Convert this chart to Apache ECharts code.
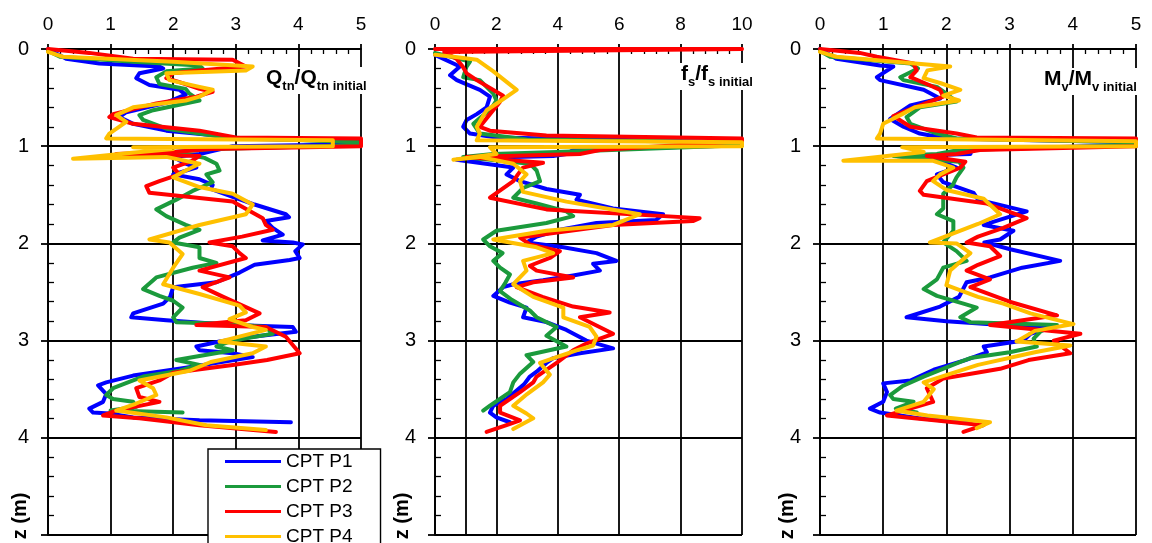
<!DOCTYPE html>
<html>
<head>
<meta charset="utf-8">
<script src="https://cdn.jsdelivr.net/npm/echarts@6/dist/echarts.min.js"></script>
<style>
  html, body { margin: 0; padding: 0; background: #fff; }
  #chart { width: 1152px; height: 543px; }
</style>
</head>
<body>
<div id="chart"></div>
<script>
// CPT soundings: normalised parameter profiles against depth z (m).
// Each point is [normalised value, depth].
const seriesNames = ['CPT P1', 'CPT P2', 'CPT P3', 'CPT P4'];
const seriesColors = ['#0000ff', '#1b9a3c', '#ff0000', '#ffc000'];

// Tick labels
const depthLabels = [0, 1, 2, 3, 4];
const qtnLabels = [0, 1, 2, 3, 4, 5];
const fsLabels = [0, 2, 4, 6, 8, 10];
const mvLabels = [0, 1, 2, 3, 4, 5];

// Qtn / Qtn initial
const qtnP1 = [[0,0],[0.29,0.1],[0.82,0.15],[1.78,0.18],[1.84,0.2],[1.46,0.25],[1.41,0.3],[1.62,0.37],[2.1,0.42],[2.2,0.47],[1.9,0.55],[1.25,0.65],[1.14,0.7],[1.36,0.77],[1.89,0.84],[2.69,0.89],[2.95,0.92],[5,0.95],[5,0.98],[2.95,1.0],[2.42,1.08],[2.0,1.11],[2.2,1.18],[2.37,1.22],[2.0,1.29],[2.42,1.34],[2.63,1.4],[2.6,1.44],[2.95,1.52],[3.3,1.6],[3.8,1.7],[3.85,1.73],[3.48,1.77],[3.59,1.84],[3.75,1.91],[3.43,1.97],[3.91,1.99],[4.07,2.01],[3.95,2.08],[4.02,2.15],[3.86,2.17],[3.3,2.22],[3.06,2.3],[2.69,2.4],[2.0,2.45],[1.95,2.55],[1.84,2.62],[1.36,2.72],[1.33,2.76],[1.89,2.79],[2.95,2.84],[3.91,2.86],[3.96,2.91],[3.27,2.96],[2.74,3.01],[2.37,3.06],[2.42,3.1],[2.95,3.13],[3.27,3.17],[2.2,3.28],[1.36,3.36],[0.93,3.43],[0.8,3.46],[0.93,3.55],[0.88,3.63],[0.66,3.7],[0.72,3.74],[0.98,3.75],[1.36,3.79],[2.42,3.82],[3.88,3.84]];
const qtnP2 = [[0,0.02],[0.19,0.08],[1.36,0.13],[2.42,0.17],[2.47,0.2],[1.89,0.23],[1.73,0.29],[1.78,0.36],[2.2,0.41],[2.26,0.46],[2.42,0.53],[1.68,0.63],[1.46,0.68],[1.52,0.73],[1.89,0.82],[2.85,0.91],[5,0.96],[5,0.99],[2.63,1.03],[2.0,1.06],[2.5,1.12],[2.69,1.18],[2.74,1.25],[2.53,1.29],[2.63,1.37],[2.42,1.43],[2.31,1.46],[2.05,1.55],[1.73,1.65],[1.89,1.72],[2.2,1.81],[2.42,1.86],[2.1,1.94],[2.0,1.99],[2.42,2.04],[2.42,2.15],[2.69,2.2],[2.31,2.25],[1.73,2.35],[1.52,2.47],[1.78,2.54],[2.0,2.59],[2.15,2.66],[2.0,2.76],[2.05,2.81],[2.95,2.83],[3.48,2.86],[3.59,2.93],[2.95,3.0],[2.69,3.06],[2.95,3.1],[2.05,3.2],[2.42,3.25],[2.1,3.31],[1.52,3.37],[1.36,3.41],[1.04,3.49],[0.93,3.56],[1.04,3.6],[1.36,3.63],[1.41,3.68],[1.0,3.72],[2.15,3.74]];
const qtnP3 = [[0,0],[0.66,0.04],[1.36,0.1],[2.95,0.11],[3.16,0.18],[2.42,0.22],[2.0,0.25],[1.89,0.3],[2.1,0.34],[2.42,0.41],[2.63,0.44],[2.37,0.49],[1.73,0.56],[1.04,0.67],[0.98,0.7],[1.36,0.77],[2.42,0.84],[3.0,0.91],[5,0.92],[5,1.0],[2.6,1.03],[2.0,1.06],[1.09,1.08],[2.42,1.1],[2.3,1.15],[2.0,1.22],[2.1,1.29],[1.78,1.36],[1.57,1.41],[1.62,1.48],[2.95,1.57],[3.43,1.74],[3.48,1.81],[3.59,1.86],[3.1,1.93],[2.58,1.99],[2.95,2.03],[3.06,2.1],[3.16,2.15],[2.42,2.28],[2.9,2.35],[2.47,2.45],[2.8,2.55],[3.38,2.72],[3.16,2.79],[2.37,2.84],[3.48,2.86],[3.8,2.96],[4.02,3.13],[3.5,3.2],[2.95,3.25],[2.0,3.33],[1.78,3.41],[1.41,3.49],[1.46,3.58],[1.78,3.63],[1.09,3.72],[0.88,3.77],[1.46,3.8],[2.42,3.87],[3.64,3.94]];
const qtnP4 = [[0,0.03],[0.24,0.08],[2.0,0.13],[3.27,0.18],[3.16,0.22],[1.89,0.25],[1.94,0.32],[2.42,0.39],[2.63,0.42],[2.42,0.49],[2.2,0.53],[1.36,0.6],[1.09,0.68],[1.25,0.75],[0.98,0.87],[0.93,0.92],[4.55,0.94],[4.55,1.0],[1.36,1.01],[2.0,1.03],[1.3,1.07],[0.4,1.13],[1.89,1.11],[2.42,1.18],[2.2,1.25],[2.0,1.32],[2.42,1.42],[2.95,1.49],[3.27,1.6],[3.16,1.7],[2.42,1.81],[1.62,1.96],[1.94,1.99],[2.15,2.11],[2.0,2.25],[1.84,2.42],[2.42,2.52],[3.06,2.64],[3.16,2.71],[2.9,2.78],[3.27,2.86],[3.48,2.89],[2.74,3.01],[3.48,3.06],[3.27,3.13],[2.6,3.22],[2.26,3.31],[1.46,3.41],[1.68,3.49],[1.73,3.56],[1.4,3.65],[1.09,3.72],[1.89,3.79],[2.53,3.87],[3.48,3.92]];

// fs / fs initial
const fsP1 = [[0,0.06],[0.81,0.18],[0.49,0.27],[0.71,0.32],[1.46,0.42],[1.79,0.49],[1.68,0.6],[1.36,0.67],[1.03,0.73],[0.92,0.8],[1.14,0.87],[2.0,0.91],[10,0.96],[10,0.99],[4.5,1.04],[4.28,1.08],[3.85,1.1],[2.55,1.11],[0.7,1.14],[2.55,1.22],[2.33,1.29],[2.77,1.36],[3.63,1.44],[4.72,1.5],[4.61,1.55],[5.8,1.64],[7.43,1.7],[7.2,1.76],[5.26,1.79],[4.07,1.86],[3.31,1.93],[2.98,1.99],[4.18,2.04],[5.26,2.1],[5.91,2.18],[5.15,2.21],[5.37,2.28],[4.5,2.33],[3.52,2.38],[2.55,2.42],[2.22,2.45],[1.9,2.54],[2.44,2.61],[2.98,2.66],[2.87,2.76],[3.63,2.81],[4.28,2.89],[4.93,3.0],[5.8,3.08],[4.72,3.13],[3.85,3.18],[3.63,3.23],[3.31,3.32],[3.09,3.37],[2.9,3.45],[2.33,3.6],[1.9,3.67],[1.79,3.74],[2.0,3.79],[2.44,3.84]];
const fsP2 = [[0,0.04],[1.14,0.13],[1.03,0.18],[0.92,0.29],[1.46,0.32],[1.9,0.46],[2.0,0.53],[1.79,0.63],[1.5,0.7],[1.25,0.77],[1.46,0.87],[3.0,0.93],[10,0.96],[10,0.99],[3.96,1.06],[1.9,1.08],[0.92,1.11],[3.09,1.18],[3.31,1.25],[3.42,1.36],[2.87,1.43],[2.55,1.53],[3.31,1.59],[4.28,1.67],[4.5,1.72],[3.63,1.79],[2.0,1.87],[1.57,1.96],[1.79,2.03],[2.2,2.1],[1.9,2.18],[2.12,2.25],[2.44,2.32],[2.3,2.4],[2.12,2.49],[2.5,2.58],[3.09,2.69],[3.31,2.76],[3.96,2.86],[3.63,2.95],[4.28,3.06],[2.98,3.15],[3.2,3.22],[2.77,3.34],[2.55,3.43],[2.44,3.53],[1.79,3.67],[1.57,3.72]];
const fsP3 = [[0,0],[10,0],[10,0.02],[0.3,0.03],[0.7,0.1],[0.9,0.18],[1.03,0.25],[1.36,0.32],[2.22,0.48],[2.1,0.55],[1.79,0.67],[1.46,0.8],[1.79,0.84],[3.63,0.89],[10,0.92],[10,0.95],[5.37,1.04],[4.72,1.08],[2.33,1.1],[1.03,1.11],[3.52,1.17],[2.87,1.22],[2.7,1.29],[2.55,1.36],[1.79,1.53],[3.63,1.65],[8.62,1.74],[8.4,1.77],[5.8,1.81],[2.77,1.94],[3.09,2.01],[4.07,2.08],[3.74,2.15],[3.09,2.23],[3.31,2.28],[4.5,2.35],[3.2,2.4],[2.66,2.45],[3.5,2.55],[4.5,2.65],[5.69,2.71],[4.72,2.76],[5.8,2.93],[4.93,3.03],[4.5,3.1],[3.96,3.23],[3.31,3.37],[3.2,3.43],[2.77,3.53],[2.12,3.67],[2.12,3.74],[2.77,3.82],[2.33,3.87],[1.68,3.94]];
const fsP4 = [[0,0.06],[0.6,0.08],[1.36,0.11],[1.9,0.23],[2.66,0.42],[2.2,0.52],[1.68,0.63],[1.36,0.8],[1.46,0.87],[1.36,0.94],[10,0.96],[10,1.0],[1.79,1.01],[2.0,1.08],[0.6,1.14],[1.46,1.11],[2.55,1.18],[2.98,1.29],[2.77,1.36],[2.87,1.47],[4.28,1.57],[6.67,1.7],[5.8,1.81],[3.63,1.87],[1.9,1.96],[3.31,2.04],[3.85,2.1],[2.87,2.18],[2.98,2.28],[2.55,2.42],[3.2,2.55],[4.18,2.66],[4.18,2.76],[5.04,2.86],[5.26,2.96],[5.15,3.05],[4.61,3.1],[3.96,3.17],[3.42,3.23],[3.74,3.35],[3.52,3.43],[3.0,3.55],[2.55,3.67],[2.98,3.75],[3.2,3.8],[2.55,3.91]];

// Mv / Mv initial
const mvP1 = [[0,0],[0.26,0.1],[0.95,0.17],[1.16,0.18],[0.9,0.29],[0.95,0.32],[1.64,0.42],[1.9,0.51],[1.43,0.58],[1.11,0.72],[1.32,0.8],[1.58,0.87],[2.0,0.92],[5,0.96],[5,0.99],[2.4,1.03],[2.38,1.08],[1.21,1.1],[1.9,1.15],[2.16,1.22],[1.85,1.29],[1.95,1.37],[2.43,1.48],[2.5,1.55],[3.27,1.67],[2.59,1.81],[3.06,1.87],[2.85,1.96],[2.6,1.99],[3.01,2.06],[3.8,2.18],[3.2,2.25],[2.69,2.35],[2.32,2.4],[2.2,2.55],[1.9,2.65],[1.37,2.76],[2.0,2.8],[2.64,2.83],[3.7,2.86],[3.33,2.93],[3.22,3.0],[2.59,3.06],[2.64,3.12],[2.3,3.2],[1.8,3.3],[1.43,3.41],[1.0,3.44],[1.06,3.53],[1.0,3.63],[0.79,3.7],[0.95,3.74],[1.58,3.8],[2.38,3.85]];
const mvP2 = [[0,0.02],[0.16,0.08],[1.43,0.15],[1.55,0.2],[1.27,0.29],[1.32,0.32],[1.85,0.39],[2.0,0.46],[2.16,0.54],[1.58,0.6],[1.37,0.7],[1.43,0.77],[1.85,0.87],[2.16,0.92],[5,0.96],[5,0.99],[2.2,1.04],[1.85,1.08],[1.16,1.1],[2.2,1.16],[2.27,1.22],[2.16,1.32],[2.1,1.4],[1.95,1.49],[1.95,1.64],[1.85,1.7],[2.11,1.77],[2.11,1.87],[1.95,1.99],[2.16,2.08],[2.32,2.18],[1.95,2.25],[1.85,2.37],[1.64,2.47],[1.85,2.54],[2.27,2.62],[2.48,2.66],[2.22,2.76],[2.38,2.81],[3.75,2.84],[3.5,2.9],[3.38,2.98],[3.43,3.06],[3.0,3.12],[2.38,3.18],[2.22,3.22],[1.64,3.37],[1.3,3.47],[1.11,3.56],[1.16,3.6],[1.48,3.63],[1.2,3.7],[1.53,3.74]];
const mvP3 = [[0,0],[0.63,0.04],[0.9,0.08],[1.48,0.15],[1.53,0.22],[1.43,0.29],[1.69,0.36],[1.9,0.42],[1.95,0.49],[1.5,0.6],[1.16,0.69],[1.43,0.8],[2.16,0.87],[2.48,0.91],[5,0.92],[5,1.0],[2.53,1.04],[2.16,1.08],[1.69,1.1],[2.3,1.16],[2.22,1.22],[1.95,1.29],[1.69,1.36],[1.58,1.46],[1.64,1.5],[2.64,1.59],[3.27,1.74],[2.9,1.84],[2.5,1.93],[2.32,1.99],[2.69,2.03],[2.85,2.13],[2.5,2.22],[2.32,2.28],[2.69,2.37],[2.38,2.45],[3.0,2.6],[3.75,2.74],[2.69,2.84],[4.12,2.93],[3.7,3.0],[3.96,3.13],[3.3,3.2],[2.85,3.29],[1.95,3.39],[1.69,3.49],[1.79,3.63],[1.06,3.77],[2.59,3.87],[2.27,3.94]];
const mvP4 = [[0,0.03],[0.26,0.08],[2.06,0.18],[1.7,0.22],[1.64,0.3],[1.9,0.35],[2.22,0.42],[1.95,0.48],[2.2,0.53],[1.5,0.6],[1.3,0.67],[1.0,0.77],[0.95,0.87],[0.9,0.92],[5,0.95],[5,1.0],[1.3,1.01],[1.64,1.06],[0.37,1.15],[1.79,1.15],[2.11,1.22],[1.9,1.29],[1.79,1.36],[2.0,1.45],[2.59,1.54],[2.85,1.7],[2.5,1.8],[2.1,1.9],[1.74,1.99],[2.16,2.0],[2.38,2.1],[2.2,2.2],[2.06,2.28],[2.0,2.43],[2.5,2.55],[2.9,2.62],[3.33,2.72],[4.01,2.83],[3.4,2.9],[3.11,3.01],[3.96,3.05],[3.4,3.12],[2.5,3.25],[1.64,3.43],[1.8,3.5],[1.64,3.63],[1.21,3.72],[1.7,3.77],[2.69,3.84],[2.48,3.9]];

const FONT = '"Liberation Sans", Arial, sans-serif';
const BLACK = '#000';

const panels = [
  { data: [qtnP1, qtnP2, qtnP3, qtnP4], max: 5, interval: 1, labels: qtnLabels,
    grid: { left: 48, top: 49, width: 313, height: 486 } },
  { data: [fsP1, fsP2, fsP3, fsP4], max: 10, interval: 2, labels: fsLabels,
    grid: { left: 435, top: 49, width: 307, height: 486 } },
  { data: [mvP1, mvP2, mvP3, mvP4], max: 5, interval: 1, labels: mvLabels,
    grid: { left: 820, top: 49, width: 316, height: 486 } }
];

const axisLine = { show: true, onZero: false, lineStyle: { color: BLACK, width: 1.8 } };
const splitLine = { show: true, lineStyle: { color: BLACK, width: 1.8, type: 'solid' } };

const grid = panels.map(p => Object.assign({ containLabel: false }, p.grid));

const xAxis = panels.map((p, i) => ({
  type: 'value', gridIndex: i, position: 'top',
  min: 0, max: p.max, interval: p.interval,
  axisLine, splitLine,
  axisTick: { show: true, inside: false, length: 5, lineStyle: { color: BLACK, width: 1.8 } },
  minorTick: { show: true, splitNumber: 5, length: -5, lineStyle: { color: BLACK, width: 1.3 } },
  minorSplitLine: { show: false },
  axisLabel: {
    show: true, margin: 15, color: BLACK, fontSize: 19, fontFamily: FONT,
    formatter: v => (p.labels.indexOf(v) >= 0 ? String(v) : '')
  }
}));

const yAxis = panels.map((p, i) => ({
  type: 'value', gridIndex: i, inverse: true,
  min: 0, max: 5, interval: 1,
  axisLine, splitLine,
  axisTick: { show: true, inside: false, length: 7, lineStyle: { color: BLACK, width: 1.8 } },
  minorTick: { show: true, splitNumber: 5, length: -6, lineStyle: { color: BLACK, width: 1.3 } },
  minorSplitLine: { show: false },
  axisLabel: {
    show: true, margin: 19, color: BLACK, fontSize: 20, fontFamily: FONT,
    formatter: v => (depthLabels.indexOf(v) >= 0 ? String(v) : '')
  }
}));

const series = [];
panels.forEach((p, i) => {
  p.data.forEach((d, k) => {
    series.push({
      type: 'line', name: seriesNames[k], xAxisIndex: i, yAxisIndex: i,
      data: d, showSymbol: false, symbol: 'none', smooth: false, clip: true,
      color: seriesColors[k],
      lineStyle: { color: seriesColors[k], width: 4, join: 'round', cap: 'round' },
      itemStyle: { color: seriesColors[k] },
      z: 3 + k
    });
  });
});

// extra vertical grid line at fs ratio 1
series.push({
  type: 'line', xAxisIndex: 1, yAxisIndex: 1, data: [], z: 1, silent: true,
  markLine: {
    silent: true, symbol: 'none', label: { show: false },
    lineStyle: { color: BLACK, width: 1.8, type: 'solid' },
    data: [{ xAxis: 1 }]
  }
});

const titleRich = {
  m: { fontSize: 21, fontWeight: 'bold', fontFamily: FONT, color: BLACK, padding: [0, 0, 4, 0], verticalAlign: 'bottom' },
  s: { fontSize: 13, fontWeight: 'bold', fontFamily: FONT, color: BLACK, verticalAlign: 'bottom' }
};
const titleText = (left, top, text) => ({
  type: 'text', left, top, z: 100,
  style: { text, rich: titleRich, backgroundColor: '#fff', padding: [1, 1] }
});
const depthName = (x) => ({
  type: 'text', x, y: 516, rotation: Math.PI / 2, z: 100,
  style: { text: 'z (m)', font: 'bold 20px ' + FONT, fill: BLACK, align: 'center', verticalAlign: 'middle' }
});

const option = {
  animation: false,
  backgroundColor: '#fff',
  color: seriesColors,
  grid, xAxis, yAxis, series,
  legend: {
    data: seriesNames, orient: 'vertical', left: 208, top: 449, height: 200,
    icon: 'rect', itemWidth: 56, itemHeight: 3, itemGap: 6,
    padding: [3, 28, 12, 17],
    backgroundColor: '#fff', borderColor: BLACK, borderWidth: 1.4, borderRadius: 0,
    textStyle: { color: BLACK, fontSize: 19, fontFamily: FONT },
    selectedMode: false, z: 50
  },
  graphic: [
    titleText(265, 67, '{m|Q}{s|tn}{m|/Q}{s|tn initial}'),
    titleText(680, 63, '{m|f}{s|s}{m|/f}{s|s initial}'),
    titleText(1043, 68, '{m|M}{s|v}{m|/M}{s|v initial}'),
    depthName(20), depthName(402), depthName(787)
  ]
};

const chart = echarts.init(document.getElementById('chart'), null, { renderer: 'canvas' });
chart.setOption(option);
</script>
</body>
</html>
